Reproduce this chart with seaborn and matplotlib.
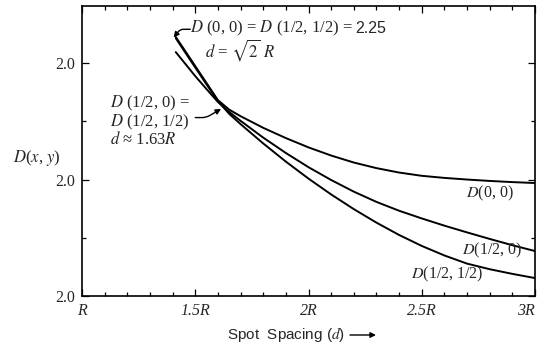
import matplotlib
matplotlib.use('Agg')

import numpy as np
import pandas as pd
import seaborn as sns
import matplotlib.pyplot as plt

sns.set_theme(style="ticks")
plt.rcParams['font.family'] = ['Liberation Serif', 'DejaVu Serif']
plt.rcParams['mathtext.fontset'] = 'stix'

# spot spacing d, in units of R
spacing = [1.414, 1.45, 1.5, 1.55, 1.6, 1.65, 1.7, 1.8, 1.9, 2.0,
           2.1, 2.2, 2.3, 2.4, 2.5, 2.6, 2.7, 2.8, 2.9, 3.0]
# values (axis runs from 1.0 at the bottom to ~2.25 at the top)
d_00 = [2.112, 2.060, 1.987, 1.914, 1.841, 1.800, 1.772, 1.722, 1.678, 1.638,
        1.603, 1.573, 1.549, 1.530, 1.516, 1.507, 1.500, 1.494, 1.489, 1.485]
d_h0 = [2.047, 2.004, 1.944, 1.888, 1.833, 1.790, 1.752, 1.680, 1.614, 1.553,
        1.498, 1.448, 1.404, 1.366, 1.333, 1.302, 1.273, 1.245, 1.218, 1.193]
d_hh = [2.107, 2.054, 1.981, 1.908, 1.837, 1.782, 1.738, 1.655, 1.577, 1.504,
        1.436, 1.373, 1.315, 1.262, 1.215, 1.174, 1.139, 1.115, 1.095, 1.077]

x_ticks = [1.0, 1.5, 2.0, 2.5, 3.0]
x_ticklabels = ["R", "1.5R", "2R", "2.5R", "3R"]
y_ticks = [1.0, 1.5, 2.0]
y_ticklabels = ["2.0", "2.0", "2.0"]

df = pd.DataFrame({
    "d": spacing * 3,
    "D": d_00 + d_h0 + d_hh,
    "curve": ["D(0,0)"] * len(spacing) + ["D(1/2,0)"] * len(spacing) + ["D(1/2,1/2)"] * len(spacing),
})

fig = plt.figure(figsize=(5.37, 3.45), dpi=100)
ax = fig.add_axes([82 / 537, 1 - 296 / 345, 453 / 537, 290 / 345])

sns.lineplot(data=df, x="d", y="D", hue="curve", palette=["black"] * 3,
             linewidth=1.4, legend=False, ax=ax)

ax.set_xlim(1.0, 3.0)
ax.set_ylim(1.0, 2.245)
ax.set_xlabel("")
ax.set_ylabel("")

ax.set_xticks(x_ticks)
ax.set_xticklabels(x_ticklabels, fontstyle="italic", fontsize=11.5)
ax.get_xticklabels()[-1].set_horizontalalignment("right")
ax.set_xticks(np.arange(1.1, 3.0, 0.1), minor=True)
ax.set_yticks(y_ticks)
ax.set_yticklabels(y_ticklabels, fontsize=11.5)
ax.set_yticks([1.25, 1.75], minor=True)
ax.tick_params(which="both", direction="in", top=True, right=True,
               color="black", width=0.9)
ax.tick_params(which="major", length=5, pad=5)
ax.tick_params(which="minor", length=3)
for s in ax.spines.values():
    s.set_color("black")
    s.set_linewidth(1.2)

fs = 12
# top annotation
ax.annotate("", xy=(1.404, 2.11), xytext=(1.478, 2.145),
            arrowprops=dict(arrowstyle="-|>", color="black", lw=1.0,
                            connectionstyle="angle,angleA=0,angleB=50,rad=3",
                            shrinkA=0, shrinkB=0, mutation_scale=8))
t1 = ax.text(1.478, 2.148, r"$D$ (0, 0) = $D$ (1/2, 1/2) = ", fontsize=fs,
             ha="left", va="center")
fig.canvas.draw()
bb = t1.get_window_extent().transformed(ax.transData.inverted())
ax.text(bb.x1 + 0.005, 2.148, "2.25", fontsize=11.5, family="Liberation Sans",
        ha="left", va="center")
ax.text(1.545, 2.056, r"$d$ = $\sqrt{2}$ $R$", fontsize=fs, ha="left", va="center")

# crossing annotation
ax.text(1.124, 1.866, "$D$ (1/2, 0) =\n$D$ (1/2, 1/2)\n$d$ ≈ 1.63$R$",
        fontsize=fs, ha="left", va="top", linespacing=0.95)
ax.annotate("", xy=(1.614, 1.803), xytext=(1.50, 1.766),
            arrowprops=dict(arrowstyle="-|>", color="black", lw=1.0,
                            connectionstyle="angle,angleA=0,angleB=30,rad=4",
                            shrinkA=0, shrinkB=0, mutation_scale=8))

# curve labels
fl = 11.5
ax.text(2.801, 1.442, "$D$(0, 0)", fontsize=fl, ha="center", va="center")
ax.text(2.812, 1.195, "$D$(1/2, 0)", fontsize=fl, ha="center", va="center")
ax.text(2.611, 1.092, "$D$(1/2, 1/2)", fontsize=fl, ha="center", va="center")

# axis labels
ax.text(-0.099, 0.476, "$D$($x$, $y$)", transform=ax.transAxes, fontsize=fs,
        ha="center", va="center")
fig.text(286 / 537, 1 - 334 / 345, "Spot  Spacing ($d$)", family="Liberation Sans",
         fontsize=11, ha="center", va="center")
ax.annotate("", xy=(376 / 537, 1 - 335 / 345), xytext=(350 / 537, 1 - 335 / 345),
            xycoords="figure fraction", textcoords="figure fraction",
            arrowprops=dict(arrowstyle="-|>", color="black", lw=1.0,
                            shrinkA=0, shrinkB=0, mutation_scale=8))

fig.savefig("out.png", dpi=100)
